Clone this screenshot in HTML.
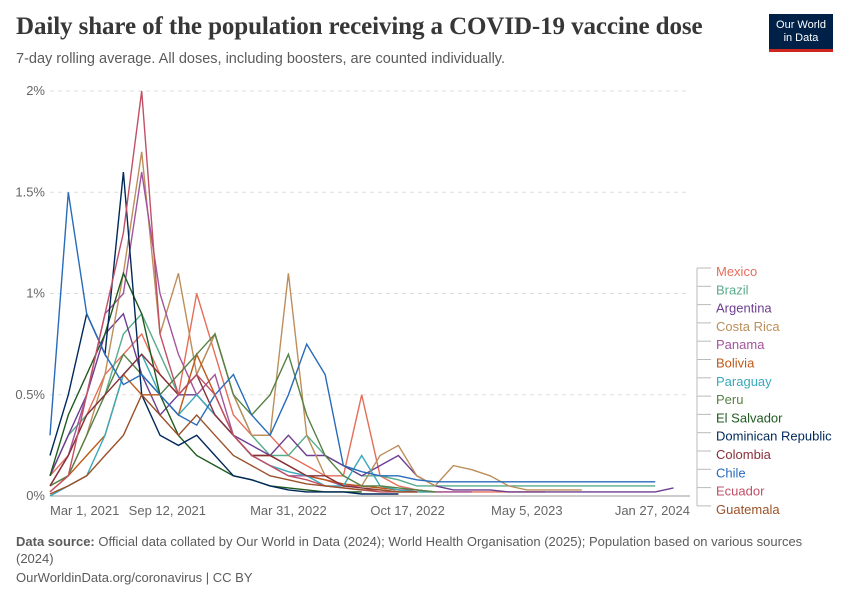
<!DOCTYPE html>
<html><head><meta charset="utf-8">
<style>
body{margin:0;background:#fff;font-family:"Liberation Sans",sans-serif;}
#wrap{position:relative;width:850px;height:600px;overflow:hidden;}
.title{position:absolute;left:16px;top:13px;font-family:"Liberation Serif",serif;font-size:25px;font-weight:bold;color:#373737;letter-spacing:-0.1px;}
.sub{position:absolute;left:16px;top:51px;font-size:14.5px;color:#5b5b5b;}
.logo{position:absolute;left:769px;top:14px;width:64px;height:38px;background:#002147;color:#fff;font-size:11px;text-align:center;line-height:13px;padding-top:5px;box-sizing:border-box;border-bottom:3px solid #ce261e;}
.foot{position:absolute;left:16px;font-size:13px;color:#5b5b5b;}
</style></head><body>
<div id="wrap">
<div class="title">Daily share of the population receiving a COVID-19 vaccine dose</div>
<div class="sub">7-day rolling average. All doses, including boosters, are counted individually.</div>
<div class="logo">Our World<br>in Data</div>
<svg id="svg" width="850" height="600" style="position:absolute;left:0;top:0"></svg>
<div class="foot" style="top:533px;line-height:17px;width:800px"><b>Data source:</b> Official data collated by Our World in Data (2024); World Health Organisation (2025); Population based on various sources (2024)</div>
<div class="foot" style="top:570px">OurWorldinData.org/coronavirus | CC BY</div>
</div>
<script>
const countries=["Mexico","Brazil","Argentina","Costa Rica","Panama","Bolivia","Paraguay","Peru","El Salvador","Dominican Republic","Colombia","Chile","Ecuador","Guatemala"];
const colors=["#e56e5a","#58ac8c","#6d3e91","#bc8e5a","#a2559c","#be5915","#38aaba","#578145","#1f5a1f","#00295b","#883039","#286bbb","#c15065","#9a5129"];
const mexico=[0.1,0.2,0.4,0.6,0.7,0.8,0.6,0.5,1.0,0.7,0.4,0.3,0.3,0.2,0.15,0.1,0.1,0.5,0.1,0.05,0.03,0.02,0.02,0.02,0.02,0.02,0.02,0.02];
const brazil=[0.1,0.3,0.4,0.5,0.8,0.9,0.7,0.5,0.6,0.8,0.5,0.3,0.2,0.2,0.3,0.2,0.15,0.1,0.1,0.08,0.05,0.05,0.05,0.05,0.05,0.05,0.05,0.05,0.05,0.05,0.05,0.05,0.05,0.05];
const argentina=[0.1,0.3,0.5,0.8,0.9,0.6,0.4,0.5,0.5,0.4,0.3,0.25,0.2,0.3,0.2,0.2,0.15,0.1,0.15,0.2,0.1,0.05,0.03,0.03,0.03,0.02,0.02,0.02,0.02,0.02,0.02,0.02,0.02,0.02,0.04];
const costaRica=[0.05,0.1,0.3,0.6,1.1,1.7,0.8,1.1,0.6,0.8,0.5,0.3,0.3,1.1,0.3,0.1,0.05,0.05,0.2,0.25,0.1,0.05,0.15,0.13,0.1,0.05,0.03,0.03,0.03,0.03];
const panama=[0.05,0.2,0.5,0.9,1.0,1.6,1.0,0.7,0.5,0.6,0.3,0.2,0.15,0.1,0.1,0.08,0.05,0.05,0.04,0.03,0.03,0.02,0.02,0.02];
const bolivia=[0.02,0.1,0.2,0.3,0.6,0.5,0.5,0.4,0.7,0.5,0.3,0.2,0.2,0.15,0.1,0.08,0.06,0.05,0.04,0.03,0.02,0.02];
const paraguay=[0.0,0.05,0.1,0.3,0.6,0.7,0.5,0.4,0.5,0.4,0.3,0.2,0.15,0.12,0.1,0.05,0.05,0.2,0.05,0.03,0.02,0.02];
const peru=[0.05,0.1,0.3,0.5,0.7,0.6,0.5,0.6,0.7,0.8,0.5,0.4,0.5,0.7,0.4,0.2,0.1,0.05,0.05,0.04,0.03,0.02];
const elSalvador=[0.1,0.4,0.6,0.8,1.1,0.9,0.5,0.3,0.2,0.15,0.1,0.08,0.05,0.04,0.03,0.02,0.02,0.02];
const dominican=[0.2,0.5,0.9,0.7,1.6,0.5,0.3,0.25,0.3,0.2,0.1,0.08,0.05,0.03,0.02,0.02,0.02,0.01,0.01,0.01];
const colombia=[0.05,0.2,0.4,0.5,0.6,0.7,0.6,0.5,0.6,0.4,0.3,0.2,0.2,0.15,0.1,0.1,0.05,0.04,0.03,0.02,0.02];
const chile=[0.3,1.5,0.9,0.7,0.55,0.6,0.5,0.4,0.35,0.5,0.6,0.4,0.3,0.5,0.75,0.6,0.15,0.12,0.1,0.1,0.08,0.07,0.07,0.07,0.07,0.07,0.07,0.07,0.07,0.07,0.07,0.07,0.07,0.07];
const ecuador=[0.02,0.1,0.5,0.9,1.3,2.0,0.8,0.5,0.6,0.5,0.3,0.2,0.15,0.1,0.08,0.05,0.04,0.03,0.02,0.02];
const guatemala=[0.01,0.05,0.1,0.2,0.3,0.5,0.4,0.3,0.4,0.3,0.2,0.15,0.1,0.08,0.06,0.05,0.04,0.03,0.03,0.02,0.02];
const series=[mexico,brazil,argentina,costaRica,panama,bolivia,paraguay,peru,elSalvador,dominican,colombia,chile,ecuador,guatemala];
const yTicks=[0,0.5,1,1.5,2];
const yTickLabels=["0%","0.5%","1%","1.5%","2%"];
const xTickMonths=[0,6.4,13,19.5,26,34.9];
const xTickLabels=["Mar 1, 2021","Sep 12, 2021","Mar 31, 2022","Oct 17, 2022","May 5, 2023","Jan 27, 2024"];
const X0=50,X1=690,Y0=496,Y1=91,NM=34.9;
const xs=m=>X0+(X1-X0)*m/NM;
const ys=v=>Y0-(Y0-Y1)*v/2;
const svg=document.getElementById('svg');
const NS="http://www.w3.org/2000/svg";
function mk(t,a){const e=document.createElementNS(NS,t);for(const k in a)e.setAttribute(k,a[k]);svg.appendChild(e);return e;}
yTicks.forEach((v,i)=>{
 const g=mk('line',{x1:X0,x2:X1,y1:ys(v),y2:ys(v),stroke:v===0?'#999':'#ddd','stroke-dasharray':v===0?'':'4,4'});
 
 
 const t=mk('text',{x:45,y:ys(v)+4,'text-anchor':'end','font-size':13,fill:'#666','font-family':'Liberation Sans'});
 t.textContent=yTickLabels[i];
 
 
});
xTickMonths.forEach((m,i)=>{
 const anchor=i===0?'start':(i===xTickMonths.length-1?'end':'middle');
 const t=mk('text',{x:xs(m),y:515,'text-anchor':anchor,'font-size':13,fill:'#666','font-family':'Liberation Sans'});
 t.textContent=xTickLabels[i];
 
 
});
series.forEach((s,i)=>{
 const d=s.map((v,j)=>(j?'L':'M')+xs(j).toFixed(1)+','+ys(v).toFixed(1)).join(' ');
 const p=mk('path',{d:d,fill:'none',stroke:colors[i],'stroke-width':1.4});
 
 
});
countries.forEach((c,i)=>{
 const y=272+i*18.3;
 const l=mk('line',{x1:697,x2:711,y1:y-4,y2:y-4,stroke:'#bbb'});
 
 
 const t=mk('text',{x:716,y:y+4,'font-size':13,fill:colors[i],'font-family':'Liberation Sans'});
 t.textContent=c;
 
 
});
const v=mk('line',{x1:697,x2:697,y1:268,y2:506,stroke:'#bbb'});


</script>
</body></html>
